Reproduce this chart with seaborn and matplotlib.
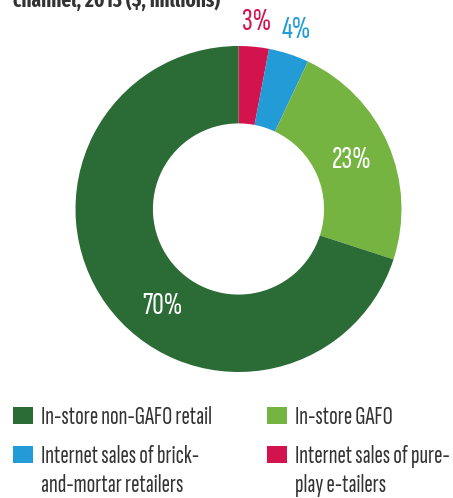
import numpy as np
import matplotlib
matplotlib.use("Agg")
import matplotlib.pyplot as plt
from matplotlib.patches import Rectangle
from matplotlib.font_manager import FontProperties
import seaborn as sns

# Retail sales by channel, 2013 (share of total)
categories = [
    "Internet sales of pure-\nplay e-tailers",
    "Internet sales of brick-\nand-mortar retailers",
    "In-store GAFO",
    "In-store non-GAFO retail",
]
shares = [3, 4, 23, 70]
labels = ["3%", "4%", "23%", "70%"]
colors = ["#d3134d", "#229bd6", "#76b441", "#2b6c36"]
label_colors = ["#d3134d", "#229bd6", "white", "white"]
title = "channel, 2013 ($, millions)"

# legend grid: (category index, column, row)
legend_layout = [(3, 0, 0), (2, 1, 0), (1, 0, 1), (0, 1, 1)]

sns.set_theme(style="white")
FAMILY = ["Sofia Sans Extra Condensed", "Fira Sans Extra Condensed", "DejaVu Sans"]
TITLE_FAMILY = ["Fira Sans Extra Condensed", "DejaVu Sans"]
plt.rcParams["font.family"] = FAMILY

W, H = 453, 498
fig = plt.figure(figsize=(W / 100, H / 100), dpi=100)
fig.patch.set_facecolor("white")
renderer = fig.canvas.get_renderer()


def fit_size(text, width_px, weight="normal", family=FAMILY, base=20.0):
    """Font size (pt) at which `text` spans roughly `width_px` pixels."""
    fp = FontProperties(family=family, size=base, weight=weight)
    w, _, _ = renderer.get_text_width_height_descent(text, fp, ismath=False)
    return base * width_px / w


def px(x, y):
    """Figure fraction from pixel coords measured from the top-left."""
    return x / W, 1 - y / H


# donut placed with its centre near the upper middle of the figure
cx, cy, r = 238.5, 209, 163
ax = fig.add_axes([(cx - r) / W, (H - cy - r) / H, 2 * r / W, 2 * r / H])
wedges, _ = ax.pie(
    shares,
    colors=colors,
    startangle=90,
    counterclock=False,
    radius=1.0,
    wedgeprops=dict(width=0.475, linewidth=0),
)
ax.set_xlim(-1, 1)
ax.set_ylim(-1, 1)
ax.set_aspect("equal")
ax.axis("off")

# percentage labels: small slices outside the ring, large ones inside
pct_size = fit_size("23%", 40)
for i, w in enumerate(wedges):
    mid = np.deg2rad((w.theta1 + w.theta2) / 2)
    dist = 1.155 if shares[i] < 10 else 0.755
    if shares[i] > 50:
        mid += np.deg2rad(16)
    ax.text(dist * np.cos(mid), dist * np.sin(mid), labels[i],
            ha="center", va="center", fontsize=pct_size,
            color=label_colors[i], clip_on=False)

# title running off the top edge
fig.text(*px(13, 7), title, ha="left", va="baseline",
         family=TITLE_FAMILY, fontweight="bold",
         fontsize=fit_size(title, 207, weight="bold", family=TITLE_FAMILY),
         color="#333333")

# legend: coloured squares with wrapped labels, two columns
leg_size = fit_size("In-store non-GAFO retail", 171)
col_x = [13, 267]
row_base = [424, 463]
line_gap = 29
for idx, col, row in legend_layout:
    x0, base = col_x[col], row_base[row]
    fig.add_artist(Rectangle(px(x0, base), 20 / W, 17 / H,
                             transform=fig.transFigure,
                             facecolor=colors[idx], edgecolor="none"))
    for k, line in enumerate(categories[idx].split("\n")):
        fig.text(*px(x0 + 28, base + k * line_gap), line,
                 ha="left", va="baseline", fontsize=leg_size,
                 color="#333333")

fig.savefig("out.png", dpi=100, facecolor="white")
